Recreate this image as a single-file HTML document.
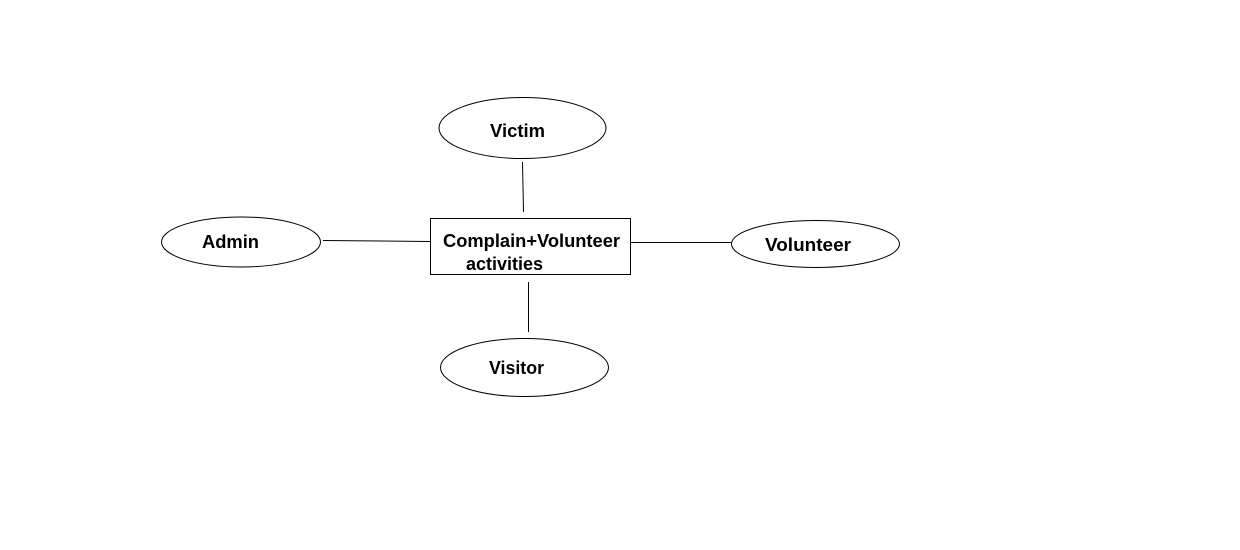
<!DOCTYPE html>
<html><head><style>html,body{margin:0;padding:0;background:#fff;}</style></head>
<body>
<svg width="1240" height="550" xmlns="http://www.w3.org/2000/svg" style="display:block">
<rect width="1240" height="550" fill="#fff"/>
<g fill="none" stroke="#000" stroke-width="1">
<ellipse cx="522.5" cy="128" rx="83.5" ry="30.5"/>
<ellipse cx="241" cy="242" rx="79.5" ry="25"/>
<ellipse cx="815.5" cy="244" rx="84" ry="23.5"/>
<ellipse cx="524.5" cy="367.5" rx="84" ry="29"/>
<rect x="430.5" y="218.5" width="200" height="56"/>
<line x1="522.5" y1="162" x2="523.5" y2="212"/>
<line x1="323" y1="240.5" x2="430" y2="241.5"/>
<line x1="631" y1="242.5" x2="731" y2="242.5"/>
<line x1="528.5" y1="282" x2="528.5" y2="332"/>
</g>
<g font-family="Liberation Sans, sans-serif" font-weight="bold" font-size="18" fill="#000" lengthAdjust="spacingAndGlyphs">
<text x="490" y="137" textLength="55" lengthAdjust="spacingAndGlyphs">Victim</text>
<text x="202" y="248" textLength="57" lengthAdjust="spacingAndGlyphs">Admin</text>
<text x="765" y="251" textLength="86" lengthAdjust="spacingAndGlyphs">Volunteer</text>
<text x="489" y="374" textLength="55" lengthAdjust="spacingAndGlyphs">Visitor</text>
<text x="443" y="247" textLength="177" lengthAdjust="spacingAndGlyphs">Complain+Volunteer</text>
<text x="466" y="270" textLength="77" lengthAdjust="spacingAndGlyphs">activities</text>
</g>
</svg>
</body></html>
